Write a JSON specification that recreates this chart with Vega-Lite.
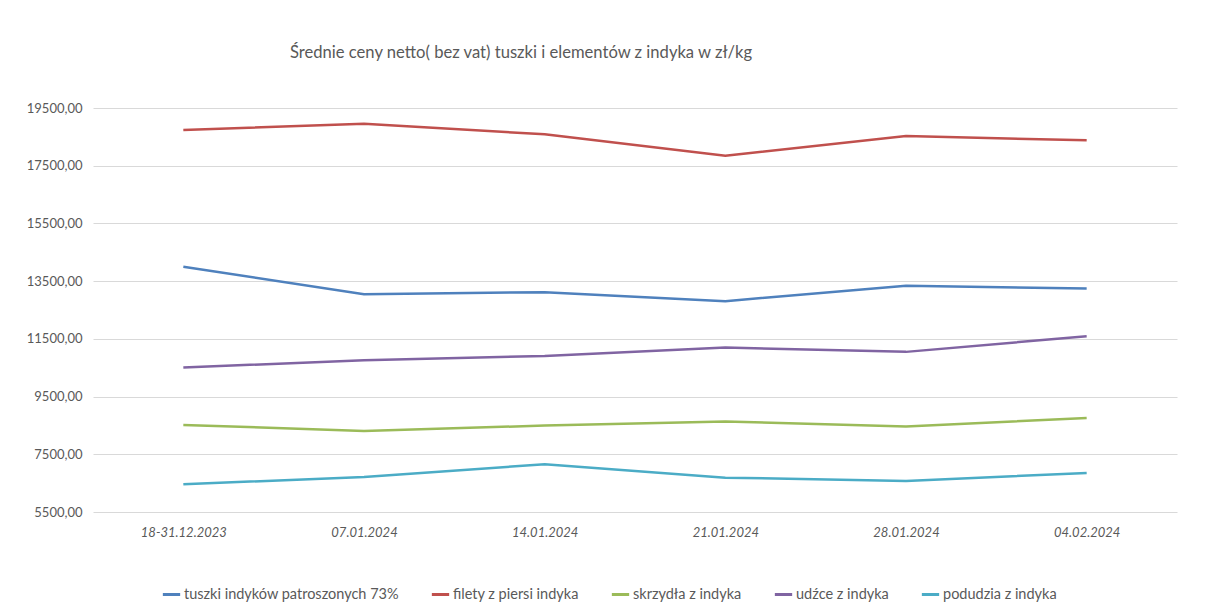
{
  "$schema": "https://vega.github.io/schema/vega-lite/v6.json",
  "autosize": "none",
  "width": 1084,
  "height": 404,
  "padding": {"left": 93, "top": 108, "right": 34, "bottom": 91},
  "background": "white",
  "config": {
    "font": "Lato",
    "view": {"stroke": null},
    "axis": {"labelColor": "#595959", "labelFont": "Lato", "labelFontSize": 13, "domain": false, "ticks": false}
  },
  "title": {
    "text": "Średnie ceny netto( bez vat) tuszki i elementów z indyka w zł/kg",
    "anchor": "start",
    "frame": "group",
    "dx": 197,
    "offset": 40,
    "fontSize": 16.6,
    "font": "Lato",
    "fontWeight": "normal",
    "color": "#595959"
  },
  "data": {
    "values": [
      {"okres": "18-31.12.2023", "seria": "tuszki indyków patroszonych 73%", "cena": 13996},
      {"okres": "07.01.2024", "seria": "tuszki indyków patroszonych 73%", "cena": 13050},
      {"okres": "14.01.2024", "seria": "tuszki indyków patroszonych 73%", "cena": 13119},
      {"okres": "21.01.2024", "seria": "tuszki indyków patroszonych 73%", "cena": 12807},
      {"okres": "28.01.2024", "seria": "tuszki indyków patroszonych 73%", "cena": 13338},
      {"okres": "04.02.2024", "seria": "tuszki indyków patroszonych 73%", "cena": 13247},
      {"okres": "18-31.12.2023", "seria": "filety z piersi indyka", "cena": 18737},
      {"okres": "07.01.2024", "seria": "filety z piersi indyka", "cena": 18956},
      {"okres": "14.01.2024", "seria": "filety z piersi indyka", "cena": 18588},
      {"okres": "21.01.2024", "seria": "filety z piersi indyka", "cena": 17846},
      {"okres": "28.01.2024", "seria": "filety z piersi indyka", "cena": 18529},
      {"okres": "04.02.2024", "seria": "filety z piersi indyka", "cena": 18380},
      {"okres": "18-31.12.2023", "seria": "skrzydła z indyka", "cena": 8517},
      {"okres": "07.01.2024", "seria": "skrzydła z indyka", "cena": 8309},
      {"okres": "14.01.2024", "seria": "skrzydła z indyka", "cena": 8496},
      {"okres": "21.01.2024", "seria": "skrzydła z indyka", "cena": 8635},
      {"okres": "28.01.2024", "seria": "skrzydła z indyka", "cena": 8461},
      {"okres": "04.02.2024", "seria": "skrzydła z indyka", "cena": 8760},
      {"okres": "18-31.12.2023", "seria": "udźce z indyka", "cena": 10507},
      {"okres": "07.01.2024", "seria": "udźce z indyka", "cena": 10761},
      {"okres": "14.01.2024", "seria": "udźce z indyka", "cena": 10910},
      {"okres": "21.01.2024", "seria": "udźce z indyka", "cena": 11200},
      {"okres": "28.01.2024", "seria": "udźce z indyka", "cena": 11049},
      {"okres": "04.02.2024", "seria": "udźce z indyka", "cena": 11593},
      {"okres": "18-31.12.2023", "seria": "podudzia z indyka", "cena": 6460},
      {"okres": "07.01.2024", "seria": "podudzia z indyka", "cena": 6714},
      {"okres": "14.01.2024", "seria": "podudzia z indyka", "cena": 7154},
      {"okres": "21.01.2024", "seria": "podudzia z indyka", "cena": 6691},
      {"okres": "28.01.2024", "seria": "podudzia z indyka", "cena": 6575},
      {"okres": "04.02.2024", "seria": "podudzia z indyka", "cena": 6852}
    ]
  },
  "mark": {"type": "line", "strokeWidth": 2.5},
  "encoding": {
    "x": {
      "field": "okres",
      "type": "ordinal",
      "sort": ["18-31.12.2023", "07.01.2024", "14.01.2024", "21.01.2024", "28.01.2024", "04.02.2024"],
      "scale": {"type": "point", "padding": 0.5},
      "axis": {"title": null, "labelAngle": 0, "labelFontStyle": "italic", "labelPadding": 14, "grid": false}
    },
    "y": {
      "field": "cena",
      "type": "quantitative",
      "scale": {"domain": [5500, 19500], "nice": false, "zero": false},
      "axis": {
        "title": null,
        "values": [5500, 7500, 9500, 11500, 13500, 15500, 17500, 19500],
        "labelExpr": "replace(format(datum.value, '.2f'), '.', ',')",
        "labelPadding": 11,
        "grid": true,
        "gridColor": "#d9d9d9",
        "gridWidth": 1
      }
    },
    "color": {
      "field": "seria",
      "type": "nominal",
      "sort": ["tuszki indyków patroszonych 73%", "filety z piersi indyka", "skrzydła z indyka", "udźce z indyka", "podudzia z indyka"],
      "scale": {
        "domain": ["tuszki indyków patroszonych 73%", "filety z piersi indyka", "skrzydła z indyka", "udźce z indyka", "podudzia z indyka"],
        "range": ["#4F81BD", "#C0504D", "#9BBB59", "#8064A2", "#4BACC6"]
      },
      "legend": {
        "title": null,
        "orient": "none",
        "direction": "horizontal",
        "legendX": 68,
        "legendY": 476,
        "symbolType": "stroke",
        "symbolStrokeWidth": 3,
        "symbolSize": 300,
        "labelFontSize": 14.5,
        "labelLimit": 0,
        "labelColor": "#595959",
        "labelFont": "Lato",
        "labelOffset": 2,
        "columnPadding": 26
      }
    }
  }
}
